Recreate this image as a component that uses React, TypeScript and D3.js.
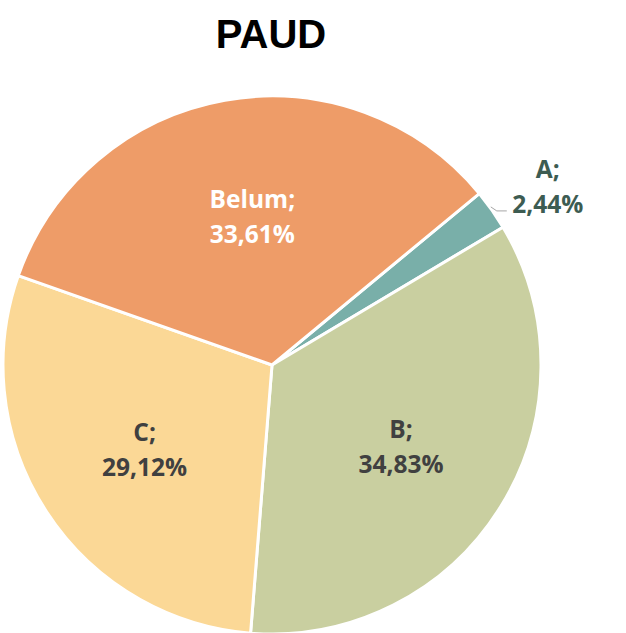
import React from "react";
import * as d3 from "d3";

const categories = ["A", "B", "C", "Belum"];
const values = [2.44, 34.83, 29.12, 33.61];
const labels = ["2,44%", "34,83%", "29,12%", "33,61%"];
const colors = ["#79AFA9", "#C9CFA0", "#FBD896", "#EE9C68"];
const textColors = ["#3D5C52", "#404040", "#404040", "#FFFFFF"];

const W = 626;
const H = 633;
const cx = 272;
const cy = 365;
const R = 269;

export default function App() {
  const start = (50.4 * Math.PI) / 180;
  const pie = d3
    .pie<number>()
    .sort(null)
    .startAngle(start)
    .endAngle(start + 2 * Math.PI)
    .value((d) => d);
  const arcs = pie(values);
  const arc = d3.arc<d3.PieArcDatum<number>>().innerRadius(0).outerRadius(R);
  const labelArc = d3
    .arc<d3.PieArcDatum<number>>()
    .innerRadius(R * 0.565)
    .outerRadius(R * 0.565);
  const font = "'Open Sans', 'Noto Sans', sans-serif";
  const fs = 24.5;

  return (
    <svg
      width={W}
      height={H}
      style={{ position: "absolute", left: 0, top: 0, background: "#fff" }}
    >
      <text
        x={271}
        y={48}
        textAnchor="middle"
        fontFamily="'Liberation Sans', Arial, sans-serif"
        fontWeight="bold"
        fontSize={40}
        fill="#000"
      >
        PAUD
      </text>
      <g transform={`translate(${cx},${cy})`}>
        {arcs.map((a, i) => (
          <path
            key={categories[i]}
            d={arc(a) || ""}
            fill={colors[i]}
            stroke="#fff"
            strokeWidth={3}
            strokeLinejoin="round"
          />
        ))}
        {arcs.map((a, i) => {
          const mid = (a.startAngle + a.endAngle) / 2;
          if (values[i] < 5) {
            const px = R * Math.sin(mid);
            const py = -R * Math.cos(mid);
            const tx = px + 56;
            return (
              <g key={"l" + i}>
                <polyline
                  points={`${px - 1},${py - 3} ${px + 5},${py + 1} ${px + 15},${py + 1}`}
                  fill="none"
                  stroke="#A6A6A6"
                  strokeWidth={1}
                />
                <text
                  x={tx}
                  y={py - 32}
                  textAnchor="middle"
                  fontFamily={font}
                  fontWeight="bold"
                  fontSize={fs}
                  fill={textColors[i]}
                >
                  {categories[i]};
                </text>
                <text
                  x={tx}
                  y={py + 3}
                  textAnchor="middle"
                  fontFamily={font}
                  fontWeight="bold"
                  fontSize={fs}
                  fill={textColors[i]}
                >
                  {labels[i]}
                </text>
              </g>
            );
          }
          const [lx0, ly] = labelArc.centroid(a);
          const lx = categories[i] === "Belum" ? lx0 + 7 : lx0;
          return (
            <g key={"l" + i}>
              <text
                x={lx}
                y={ly - 7}
                textAnchor="middle"
                fontFamily={font}
                fontWeight="bold"
                fontSize={fs}
                fill={textColors[i]}
              >
                {categories[i]};
              </text>
              <text
                x={lx}
                y={ly + 28}
                textAnchor="middle"
                fontFamily={font}
                fontWeight="bold"
                fontSize={fs}
                fill={textColors[i]}
              >
                {labels[i]}
              </text>
            </g>
          );
        })}
      </g>
    </svg>
  );
}
